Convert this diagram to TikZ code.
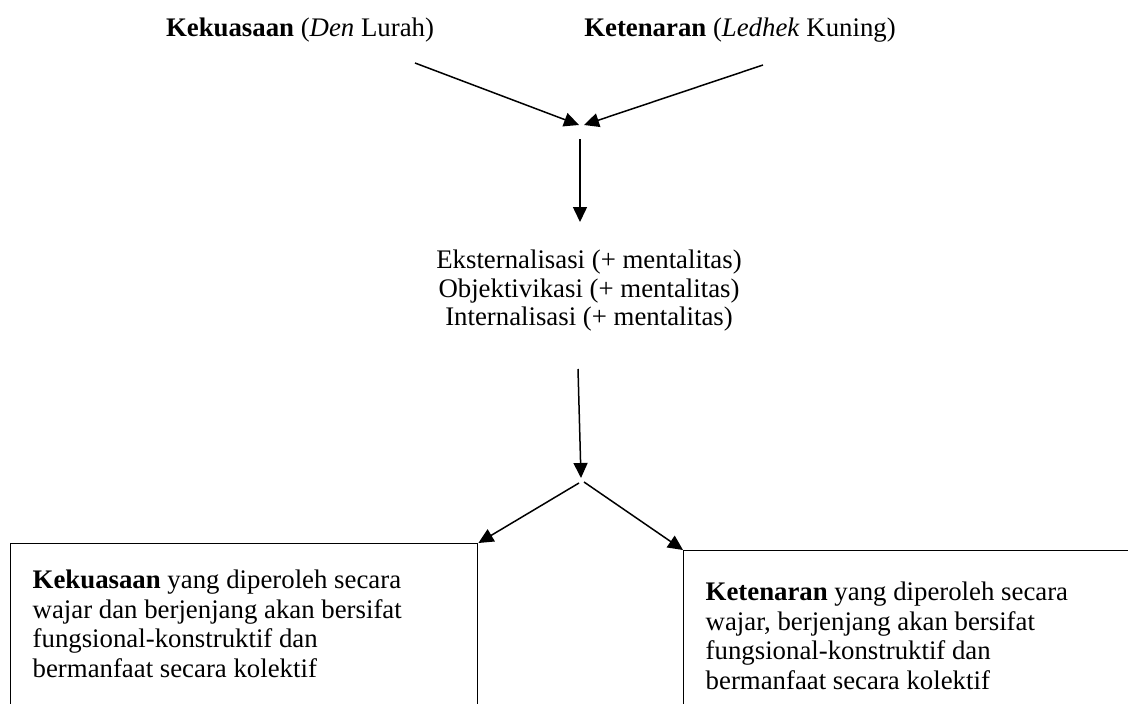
\documentclass[tikz,border=0pt]{standalone}
\usepackage{fontspec}
\setmainfont{Liberation Serif}
\usetikzlibrary{arrows.meta}
\begin{document}
\begin{tikzpicture}[x=1pt,y=-1pt,
  txt/.style={font=\fontsize{26.8}{28.5}\selectfont, inner sep=0pt},
  conn/.style={line width=1.5pt, -{Triangle[length=15pt,width=14pt]}},
  boxnode/.style={draw, line width=1.4pt, anchor=north west, inner sep=0pt, font=\fontsize{26.8}{29.5}\selectfont}]
\clip (0,0) rectangle (1128,704);
\fill[white] (0,0) rectangle (1128,704);
% labels
\node[txt, anchor=base] (lab1) at (300,36) {\textbf{Kekuasaan} (\textit{Den} Lurah)};
\node[txt, anchor=base] (lab2) at (740,36) {\textbf{Ketenaran} (\textit{Ledhek} Kuning)};
\node[txt, align=center] (mid) at (589,291) {Eksternalisasi (+ mentalitas)\\Objektivikasi (+ mentalitas)\\Internalisasi (+ mentalitas)};
% boxes
\node[boxnode] (lbox) at (10,543) {\begin{minipage}[t][250pt][t]{467pt}\setlength\parindent{0pt}\raggedright\leftskip=22pt\vspace*{26.5pt}%
\textbf{Kekuasaan} yang diperoleh secara\\wajar dan berjenjang akan bersifat\\fungsional-konstruktif dan\\bermanfaat secara kolektif\end{minipage}};
\node[boxnode] (rbox) at (683,550) {\begin{minipage}[t][250pt][t]{500pt}\setlength\parindent{0pt}\raggedright\leftskip=22pt\vspace*{31.5pt}%
\textbf{Ketenaran} yang diperoleh secara\\wajar, berjenjang akan bersifat\\fungsional-konstruktif dan\\bermanfaat secara kolektif\end{minipage}};
% coordinates
\coordinate (p1) at (415,63);
\coordinate (p2) at (763,65);
\coordinate (j1) at (579,125);
\coordinate (j2) at (584,125);
\coordinate (q1) at (580,139);
\coordinate (q2) at (580,222);
\coordinate (r1) at (578,369);
\coordinate (r2) at (581,478);
\coordinate (s1) at (579,483);
\coordinate (s2) at (584,482);
% connectors
\draw[conn] (p1) -- (j1);
\draw[conn] (p2) -- (j2);
\draw[conn] (q1) -- (q2);
\draw[conn] (r1) -- (r2);
\draw[conn] (s1) -- (lbox.north east);
\draw[conn] (s2) -- (rbox.north west);
\end{tikzpicture}
\end{document}
